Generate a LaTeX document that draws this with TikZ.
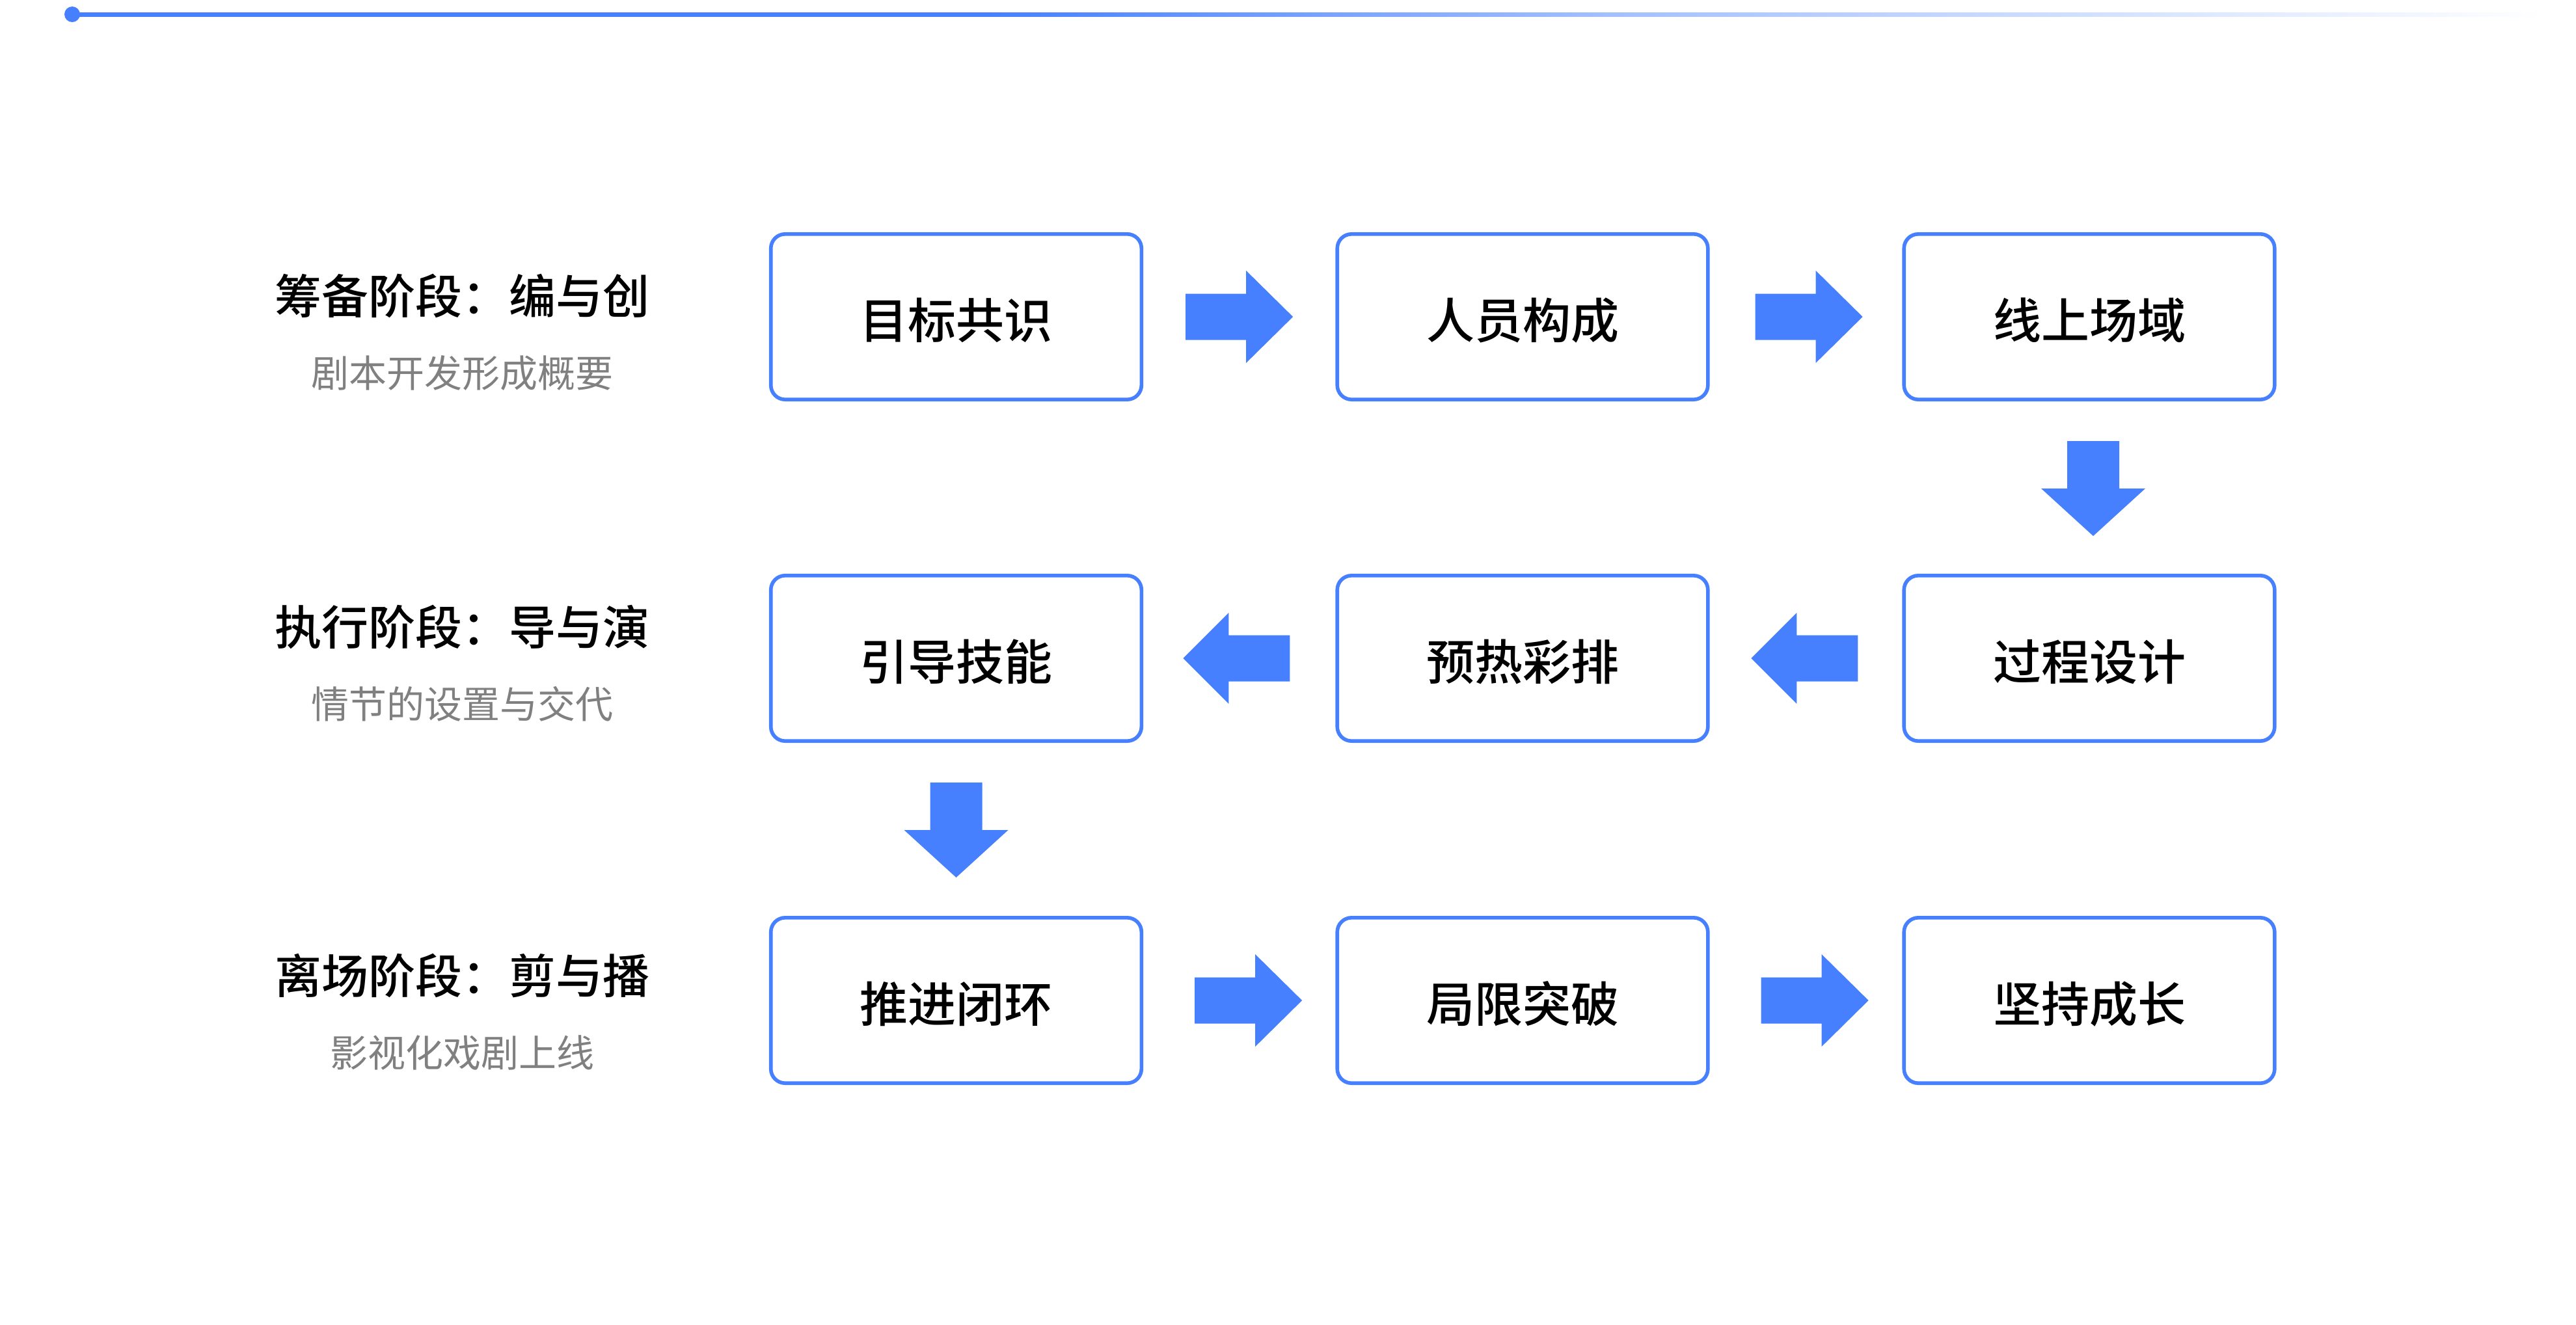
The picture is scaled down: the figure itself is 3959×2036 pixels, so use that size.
\documentclass[tikz,border=0pt]{standalone}
\usepackage{fontspec}
\setmainfont{Noto Sans CJK SC}
\newfontfamily\cjkmed[UprightFont=* Medium]{Noto Sans CJK SC}
\usetikzlibrary{calc}
\definecolor{ablue}{HTML}{4680FF}
\definecolor{subgray}{HTML}{808080}
\pgfdeclarehorizontalshading{toplinefade}{100bp}{color(0bp)=(ablue); color(25bp)=(ablue); color(43.5bp)=(ablue); color(56bp)=(ablue!50!white); color(75bp)=(white); color(100bp)=(white)}
\tikzset{
  x=0.25pt, y=-0.25pt,
  stepbox/.style={draw=ablue, line width=1.4pt, rounded corners=5.5pt, fill=white,
    minimum width=142.4pt, minimum height=63.6pt, inner sep=0pt,
    text height=18.5pt, text depth=2pt,
    font=\cjkmed\fontsize{18.5pt}{20pt}\selectfont},
  ttl/.style={inner sep=0pt, text=black, font=\cjkmed\fontsize{18pt}{20pt}\selectfont},
  subttl/.style={inner sep=0pt, text=subgray, font=\fontsize{14.5pt}{16pt}\selectfont},
  rarr/.pic={\fill[ablue] (0,-35.5) -- (93,-35.5) -- (93,-71) -- (165,0) -- (93,71) -- (93,35.5) -- (0,35.5) -- cycle;},
  larr/.pic={\fill[ablue] (0,-35.5) -- (-94,-35.5) -- (-94,-70) -- (-164,0) -- (-94,70) -- (-94,35.5) -- (0,35.5) -- cycle;},
  darr/.pic={\fill[ablue] (-40,0) -- (40,0) -- (40,73) -- (80,73) -- (0,146) -- (-80,73) -- (-40,73) -- cycle;}
}
\begin{document}
\begin{tikzpicture}
\useasboundingbox[fill=white] (0,0) rectangle (3959,2036);
% top line
\shade[shading=toplinefade] (111,19) rectangle (3910,25);
\fill[ablue] (111,22) circle[radius=3pt];
% boxes
\node[stepbox] (b11) at (1469.5,487) {目标共识};
\node[stepbox] (b12) at (2340,487) {人员构成};
\node[stepbox] (b13) at (3211,487) {线上场域};
\node[stepbox] (b21) at (1469.5,1012) {引导技能};
\node[stepbox] (b22) at (2340,1012) {预热彩排};
\node[stepbox] (b23) at (3211,1012) {过程设计};
\node[stepbox] (b31) at (1469.5,1538) {推进闭环};
\node[stepbox] (b32) at (2340,1538) {局限突破};
\node[stepbox] (b33) at (3211,1538) {坚持成长};
% labels
\node[ttl] (t1) at (710,455) {筹备阶段：编与创};
\node[subttl] (s1) at (710,574) {剧本开发形成概要};
\node[ttl] (t2) at (710,964) {执行阶段：导与演};
\node[subttl] (s2) at (710,1082) {情节的设置与交代};
\node[ttl] (t3) at (710,1500) {离场阶段：剪与播};
\node[subttl] (s3) at (710,1619) {影视化戏剧上线};
% arrows
\pic at ($(b11.east)+(65,0)$) {rarr};
\pic at ($(b12.east)+(70,0)$) {rarr};
\pic at ($(b13.south)+(6,61)$) {darr};
\pic at ($(b23.west)+(-68,0)$) {larr};
\pic at ($(b22.west)+(-70,0)$) {larr};
\pic at ($(b21.south)+(0,61)$) {darr};
\pic at ($(b31.east)+(79,0)$) {rarr};
\pic at ($(b32.east)+(79,0)$) {rarr};
\end{tikzpicture}
\end{document}
